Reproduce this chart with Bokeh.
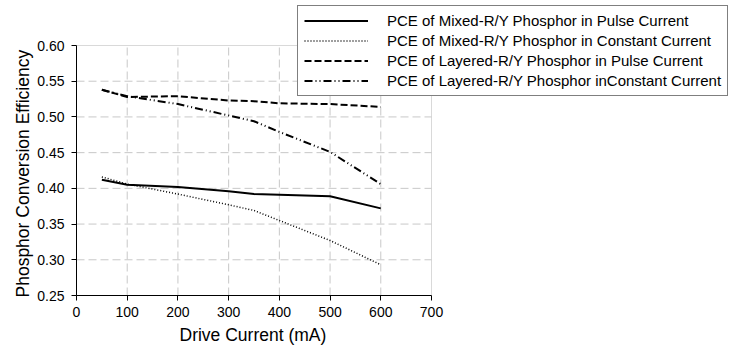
from bokeh.plotting import figure
from bokeh.models import (Legend, LegendItem, Range1d, FixedTicker, NumeralTickFormatter,
                          BoxAnnotation, Title)
from bokeh.embed import file_html
from bokeh.resources import INLINE

current = [50, 100, 200, 300, 350, 400, 500, 600]
mixed_pulse = [0.412, 0.405, 0.402, 0.396, 0.392, 0.391, 0.389, 0.372]
mixed_const = [0.416, 0.406, 0.392, 0.377, 0.369, 0.355, 0.327, 0.293]
layered_pulse = [0.538, 0.528, 0.529, 0.523, 0.522, 0.519, 0.518, 0.514]
layered_const = [0.538, 0.529, 0.518, 0.502, 0.494, 0.479, 0.451, 0.406]
labels = [
    "PCE of Mixed-R/Y Phosphor in Pulse Current",
    "PCE of Mixed-R/Y Phosphor in Constant Current",
    "PCE of Layered-R/Y Phosphor in Pulse Current",
    "PCE of Layered-R/Y Phosphor inConstant Current",
]
x_ticks = [0, 100, 200, 300, 400, 500, 600, 700]
y_ticks = [0.25, 0.30, 0.35, 0.40, 0.45, 0.50, 0.55, 0.60]
x_title = "Drive Current (mA)"
y_title = "Phosphor Conversion Efficiency"

X_MIN, X_MAX = 0, 700
Y_MIN, Y_MAX = 0.25, 0.60

FONT = "Liberation Sans"

# Frame spans the whole canvas right/top so the legend can sit outside the axes box
LEFT, BOTTOM = 76, 55
W, H = 737, 350
axes_w = 431 - LEFT
axes_h = 295 - 45
frame_w = W - LEFT
frame_h = H - BOTTOM
x_end = X_MIN + (X_MAX - X_MIN) * frame_w / axes_w
y_end = Y_MIN + (Y_MAX - Y_MIN) * frame_h / axes_h

p = figure(width=W, height=H, output_backend="svg", toolbar_location=None,
           x_range=Range1d(X_MIN, x_end), y_range=Range1d(Y_MIN, y_end),
           min_border_left=LEFT, min_border_right=0, min_border_top=0, min_border_bottom=BOTTOM)
p.outline_line_color = None
p.xgrid.visible = False
p.ygrid.visible = False

for ax in (p.xaxis[0], p.yaxis[0]):
    ax.axis_line_color = "black"
    ax.major_tick_line_color = "black"
    ax.minor_tick_line_color = None
    ax.major_tick_in = 0
    ax.major_tick_out = 5
    ax.major_label_text_font = FONT
    ax.major_label_text_font_size = "14px"
    ax.major_label_text_color = "black"

p.xaxis.bounds = (X_MIN, X_MAX)
p.yaxis.bounds = (Y_MIN, Y_MAX)
p.xaxis.ticker = FixedTicker(ticks=x_ticks)
p.yaxis.ticker = FixedTicker(ticks=y_ticks)
p.yaxis.formatter = NumeralTickFormatter(format="0.00")
p.xaxis.major_label_standoff = 6
p.yaxis.major_label_standoff = 7

# axis titles, positioned along the axes box (not the whole frame)
xt = Title(text=x_title, align="left", offset=179 - LEFT, text_font=FONT,
           text_font_size="17.5px", text_font_style="normal", text_color="black", standoff=7)
p.add_layout(xt, "below")
yt = Title(text=y_title, align="left", offset=(frame_h - 297), text_font=FONT,
           text_font_size="17.5px", text_font_style="normal", text_color="black", standoff=4)
p.add_layout(yt, "left")

# dashed grid inside the axes box
gx = x_ticks[1:-1]
gy = y_ticks[1:-1]
p.segment(x0=gx, y0=[Y_MIN] * len(gx), x1=gx, y1=[Y_MAX] * len(gx),
          line_color="#c8c8c8", line_width=1, line_dash="8 4")
p.segment(x0=[X_MIN] * len(gy), y0=gy, x1=[X_MAX] * len(gy), y1=gy,
          line_color="#c8c8c8", line_width=1, line_dash="8 4")
# grey border (top / right) of the axes box
p.add_layout(BoxAnnotation(left=X_MIN, right=X_MAX, bottom=Y_MIN, top=Y_MAX,
                           fill_alpha=0, line_color="#808080", line_width=1, level="underlay"))

r1 = p.line(current, mixed_pulse, line_color="black", line_width=2)
r2 = p.line(current, mixed_const, line_color="black", line_width=1.5, line_dash="1 2")
r3 = p.line(current, layered_pulse, line_color="black", line_width=2, line_dash="7 3")
r4 = p.line(current, layered_const, line_color="black", line_width=2, line_dash="8 3 1 3 1 3")

legend = Legend(items=[LegendItem(label=l, renderers=[r]) for l, r in zip(labels, [r1, r2, r3, r4])],
                location=(297 - LEFT, frame_h - 96))
legend.label_text_font = FONT
legend.label_text_font_size = "15px"
legend.label_text_color = "black"
legend.glyph_width = 64
legend.glyph_height = 17
legend.label_height = 17
legend.spacing = 3
legend.padding = 6
legend.margin = 0
legend.label_standoff = 19
legend.border_line_color = "black"
legend.border_line_width = 1
legend.background_fill_color = "white"
legend.background_fill_alpha = 1
p.add_layout(legend, "center")

open("out.html", "w").write(file_html(p, INLINE))
